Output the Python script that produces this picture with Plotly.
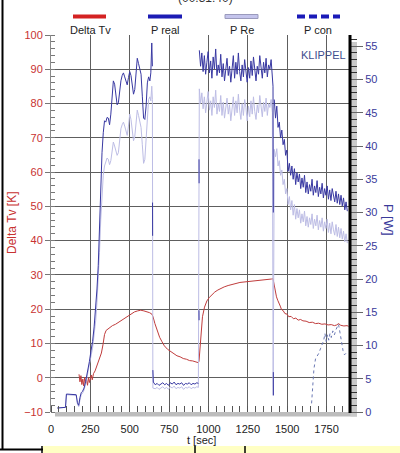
import plotly.graph_objects as go

# ---------------- data ----------------
x_tick_vals = [0, 250, 500, 750, 1000, 1250, 1500, 1750]
x_tick_text = ["0", "250", "500", "750", "1000", "1250", "1500", "1750"]

# Delta Tv [K] (left axis)
t_dtv = [178, 184, 190, 196, 202, 208, 214, 220, 226, 232,
         238, 244, 250, 256, 262, 270, 280, 290, 300, 310,
         320, 330, 340, 350, 360, 375, 390, 410, 430, 450,
         470, 490, 510, 530, 550, 570, 590, 610, 625, 640,
         648, 660, 675, 690, 705, 720, 740, 760, 780, 800,
         820, 840, 860, 880, 900, 920, 935, 940, 945, 950,
         955, 962, 975, 990, 1005, 1020, 1040, 1060, 1080, 1100,
         1125, 1150, 1175, 1200, 1225, 1250, 1275, 1300, 1325, 1350,
         1375, 1400, 1410, 1416, 1424, 1432, 1440, 1448, 1456, 1464,
         1474, 1486, 1498, 1510, 1525, 1540, 1555, 1570, 1585, 1600,
         1620, 1640, 1660, 1680, 1700, 1720, 1740, 1760, 1780, 1800,
         1815, 1826, 1840, 1860, 1880, 1890]
delta_tv = [1.0, -1.2, 0.6, -2.0, -0.4, -2.4, 0.2, -1.6, -0.6, -2.2,
            0.0, -1.4, -0.2, 0.8, -0.6, 1.2, 2.0, 3.4, 4.4, 5.8,
            7.2, 9.6, 12.6, 13.8, 14.2, 14.8, 15.2, 15.6, 16.2, 17.0,
            17.6, 18.2, 18.8, 19.2, 19.5, 19.7, 19.5, 19.3, 19.0, 18.6,
            17.8, 15.8, 13.6, 11.8, 10.5, 9.3, 8.3, 7.6, 7.0, 6.4,
            6.1, 5.6, 5.4, 5.0, 4.9, 4.6, 4.4, 4.8, 7.5, 10.5,
            14.0, 17.8, 20.6, 22.4, 23.4, 24.2, 25.0, 25.6, 26.1, 26.5,
            26.9, 27.3, 27.5, 27.8, 27.9, 28.1, 28.2, 28.3, 28.5, 28.5,
            28.7, 28.8, 28.9, 27.4, 25.2, 23.6, 22.6, 21.4, 20.9, 19.9,
            19.6, 18.7, 18.6, 17.8, 17.9, 17.2, 17.4, 16.8, 17.0, 16.6,
            16.5, 16.1, 16.2, 15.8, 15.9, 15.6, 15.7, 15.4, 15.5, 15.2,
            15.4, 15.8, 15.3, 15.1, 15.2, 15.0]

# Power [W] (right axis) - warm-up segment
t_rise = [40, 70, 92, 98, 130, 160, 168, 176, 184, 192,
          200, 210, 220, 232, 244, 254, 264, 274, 284, 292,
          300, 308, 316, 324, 332, 340, 348, 356, 364, 372,
          380, 388, 396, 404, 412, 420, 428, 436, 444, 452,
          460, 468, 476, 484, 492, 500, 508, 516, 524, 532,
          540, 548, 556, 564, 572, 580, 588, 596, 604, 612,
          620, 628, 634, 640, 644]
p_real_rise = [0.6, 0.6, 0.7, 2.7, 2.7, 2.6, 1.4, 1.0, 2.2, 2.9,
               3.1, 3.6, 4.6, 6.0, 7.6, 9.2, 10.6, 12.8, 15.4, 18.5,
               22.0, 28.0, 34.0, 39.0, 42.0, 43.8, 43.6, 44.3, 44.2, 43.2,
               44.8, 48.0, 49.8, 49.3, 47.2, 46.2, 46.5, 48.4, 49.8, 50.6,
               51.0, 50.4, 49.6, 49.2, 50.3, 51.2, 50.6, 49.0, 47.8, 48.5,
               51.2, 53.2, 52.4, 51.3, 50.8, 47.5, 44.2, 44.0, 46.0, 49.5,
               50.4, 49.8, 51.0, 55.5, 52.0]
p_re_rise = [0.6, 0.6, 0.7, 2.6, 2.6, 2.5, 1.2, 0.8, 1.8, 2.6,
             2.8, 3.3, 4.2, 5.5, 7.0, 8.4, 9.6, 11.5, 13.8, 16.5,
             19.5, 24.0, 29.0, 33.0, 35.6, 37.0, 37.6, 38.2, 38.0, 37.2,
             37.8, 39.6, 40.6, 40.0, 39.0, 38.6, 39.0, 40.8, 42.6, 43.2,
             43.6, 43.0, 42.0, 41.6, 43.0, 44.8, 44.0, 42.0, 40.8, 41.4,
             44.0, 45.4, 44.6, 43.4, 42.8, 40.2, 37.4, 38.0, 41.5, 44.5,
             47.0, 47.4, 46.8, 49.0, 47.0]

# low-power segment
t_low = [647, 650, 662, 674, 686, 698, 710, 722, 734, 746,
         758, 770, 782, 794, 806, 818, 830, 842, 854, 866,
         878, 890, 902, 914, 926, 936]
p_real_low = [6.3, 4.5, 4.1, 4.3, 4.0, 4.2, 4.4, 4.1, 4.3, 4.0,
              4.4, 4.2, 4.5, 4.1, 4.3, 4.2, 4.4, 4.0, 4.3, 4.2,
              4.4, 4.1, 4.3, 4.2, 4.4, 4.3]
p_re_low = [3.6, 3.6, 3.5, 3.7, 3.4, 3.6, 3.8, 3.5, 3.7, 3.4,
            3.8, 3.6, 3.9, 3.5, 3.7, 3.6, 3.8, 3.4, 3.7, 3.6,
            3.8, 3.5, 3.7, 3.6, 3.8, 3.7]

# high-power segment
t_high = [942, 950, 958, 966, 974, 982, 990, 998, 1006, 1014,
          1022, 1030, 1038, 1046, 1054, 1062, 1070, 1078, 1086, 1094,
          1102, 1110, 1118, 1126, 1134, 1142, 1150, 1158, 1166, 1174,
          1182, 1190, 1198, 1206, 1214, 1222, 1230, 1238, 1246, 1254,
          1262, 1270, 1278, 1286, 1294, 1302, 1310, 1318, 1326, 1334,
          1342, 1350, 1358, 1366, 1374, 1382, 1390, 1398, 1406]
p_real_high = [54.4, 52.0, 54.0, 51.2, 53.6, 50.8, 52.6, 54.2, 51.0, 52.8,
               50.2, 53.4, 51.6, 54.6, 50.6, 52.2, 51.0, 53.8, 50.4, 52.4,
               49.8, 51.8, 53.2, 50.6, 52.0, 49.6, 51.4, 53.6, 50.2, 52.6,
               50.8, 54.0, 51.2, 49.8, 52.2, 50.4, 53.0, 51.6, 49.6, 51.8,
               50.2, 52.8, 50.6, 53.4, 51.0, 49.8, 52.0, 50.8, 53.6, 51.4,
               50.2, 52.6, 51.0, 53.2, 50.4, 52.2, 51.6, 53.0, 50.8]
p_re_high = [48.6, 46.4, 48.0, 45.6, 47.4, 45.0, 46.8, 48.2, 45.4, 46.8,
             44.6, 47.4, 45.8, 48.4, 44.8, 46.4, 45.2, 47.6, 44.6, 46.6,
             44.2, 46.0, 47.2, 44.8, 46.2, 43.8, 45.6, 47.4, 44.6, 46.8,
             45.0, 47.8, 45.4, 44.0, 46.4, 44.6, 47.0, 45.8, 43.8, 46.0,
             44.4, 46.8, 44.8, 47.4, 45.2, 44.0, 46.2, 45.0, 47.6, 45.6,
             44.4, 46.6, 45.2, 47.2, 44.6, 46.4, 45.8, 47.0, 45.0]

# cool-down segment
t_cool = [1418, 1426, 1434, 1442, 1450, 1458, 1466, 1474, 1482, 1490,
          1498, 1506, 1514, 1522, 1530, 1538, 1546, 1554, 1562, 1570,
          1578, 1586, 1594, 1602, 1610, 1618, 1626, 1634, 1642, 1650,
          1658, 1666, 1674, 1682, 1690, 1698, 1706, 1714, 1722, 1730,
          1738, 1746, 1754, 1762, 1770, 1778, 1786, 1794, 1802, 1810,
          1818, 1826, 1834, 1842, 1850, 1858, 1866, 1874, 1882]
p_real_cool = [47.0, 44.2, 46.0, 42.8, 43.6, 41.2, 42.4, 40.2, 41.0, 38.6,
               39.4, 36.2, 37.4, 35.6, 37.0, 35.0, 36.6, 34.2, 36.0, 34.6,
               35.8, 33.6, 35.2, 33.8, 35.6, 33.0, 34.6, 32.8, 34.2, 33.2,
               35.0, 32.6, 34.0, 33.0, 34.8, 32.4, 33.8, 32.8, 34.4, 32.2,
               33.6, 32.6, 34.0, 32.0, 33.4, 31.8, 33.6, 32.4, 31.6, 33.2,
               31.4, 32.8, 31.2, 32.6, 31.0, 32.2, 30.4, 31.6, 30.2]
p_re_cool = [39.5, 38.4, 39.6, 37.0, 37.8, 35.6, 36.4, 34.2, 35.0, 32.8,
             33.6, 31.2, 32.4, 30.4, 31.8, 29.6, 31.2, 29.0, 30.6, 29.2,
             30.4, 28.4, 29.8, 28.6, 30.2, 28.0, 29.4, 27.8, 29.2, 28.2,
             29.8, 27.6, 29.0, 28.0, 29.6, 27.4, 28.8, 27.8, 29.2, 27.2,
             28.6, 27.6, 29.0, 27.0, 28.4, 26.8, 28.6, 27.4, 26.6, 28.2,
             26.4, 27.8, 26.2, 27.6, 26.0, 27.2, 25.6, 26.8, 25.4]

# short transients at the power switching moments
t_sw1 = [645, 645.5]
p_sw1 = [31.5, 26.5]
t_sw2a = [940, 940.5]
p_sw2a = [38.0, 34.4]
t_sw2b = [940, 940.5]
p_sw2b = [15.3, 13.8]
t_sw3 = [1410, 1412]
p_sw3 = [49.0, 30.0]
t_sw3b = [1412, 1412.5]
p_sw3b = [6.0, 2.5]
t_re_sw3 = [1411]
p_re_sw3 = [2.5]

# P con
t_pcon = [1655, 1662, 1670, 1680, 1690, 1700, 1713, 1722, 1732, 1740,
          1748, 1756, 1764, 1772, 1780, 1790, 1800, 1810, 1820, 1826,
          1835, 1845, 1855, 1864, 1872, 1880]
p_con = [1.3, 4.0, 6.5, 8.0, 8.4, 8.8, 9.6, 10.2, 10.8, 11.8,
         10.6, 11.6, 10.8, 11.8, 11.2, 12.2, 11.6, 12.4, 12.8, 13.2,
         12.0, 10.4, 9.2, 8.6, 8.8, 9.0]

# ---------------- assemble ----------------
GAP = [None]
t_real = (t_rise + GAP + t_sw1 + GAP + t_low + GAP + t_sw2a + GAP + t_sw2b + GAP
          + t_high + t_sw3 + GAP + t_sw3b + GAP + t_cool)
p_real = (p_real_rise + GAP + p_sw1 + GAP + p_real_low + GAP + p_sw2a + GAP + p_sw2b + GAP
          + p_real_high + p_sw3 + GAP + p_sw3b + GAP + p_real_cool)
t_re = t_rise + t_low + t_high + t_re_sw3 + t_cool
p_re = p_re_rise + p_re_low + p_re_high + p_re_sw3 + p_re_cool

W, H = 400, 453
L, R, T, B = 51, 50, 35, 41
PW = W - L - R
PH = H - T - B


def px(x):
    return (x - L) / PW


def py(y):
    return (H - B - y) / PH


RED = "#c83232"
BLUE = "#3a3a9a"
FONT = "Liberation Sans, Arial, sans-serif"

fig = go.Figure()
fig.add_trace(go.Scatter(x=t_re, y=p_re, yaxis="y2", mode="lines", name="P Re",
                         line=dict(color="#bdbde5", width=1), hoverinfo="skip"))
fig.add_trace(go.Scatter(x=t_real, y=p_real, yaxis="y2", mode="lines", name="P real",
                         line=dict(color="#3838a2", width=1), connectgaps=False, hoverinfo="skip"))
fig.add_trace(go.Scatter(x=t_pcon, y=p_con, yaxis="y2", mode="lines", name="P con",
                         line=dict(color="#6a78b4", width=1, dash="dot"), hoverinfo="skip"))
fig.add_trace(go.Scatter(x=t_dtv, y=delta_tv, mode="lines", name="Delta Tv",
                         line=dict(color="#c03c3c", width=1), hoverinfo="skip"))

shapes = []
# hide the top gridline
shapes.append(dict(type="line", xref="paper", yref="paper", x0=0.004, x1=0.996, y0=1, y1=1,
                   line=dict(color="white", width=2), layer="between"))
# bottom gray axis band
shapes.append(dict(type="rect", xref="paper", yref="paper", x0=px(55), x1=px(357), y0=py(416.5), y1=py(412),
                   fillcolor="#bdbdbd", line=dict(width=0), layer="below"))
# right gray axis band
shapes.append(dict(type="rect", xref="paper", yref="paper", x0=px(350.5), x1=px(357), y0=py(416.5), y1=py(42),
                   fillcolor="#c9c9c9", line=dict(width=0), layer="below"))
# thick black line at right edge
shapes.append(dict(type="line", xref="paper", yref="paper", x0=px(350), x1=px(350), y0=py(413), y1=py(35),
                   line=dict(color="black", width=3), layer="above"))
# legend samples
shapes.append(dict(type="line", xref="paper", yref="paper", x0=px(73), x1=px(106), y0=py(16.5), y1=py(16.5),
                   line=dict(color="#d42222", width=4)))
shapes.append(dict(type="line", xref="paper", yref="paper", x0=px(148), x1=px(182), y0=py(16.5), y1=py(16.5),
                   line=dict(color="#1c1cb4", width=4)))
shapes.append(dict(type="rect", xref="paper", yref="paper", x0=px(225), x1=px(258), y0=py(18.5), y1=py(14.5),
                   fillcolor="#c4c4ec", line=dict(color="#9a9abc", width=1)))
shapes.append(dict(type="line", xref="paper", yref="paper", x0=px(297), x1=px(340), y0=py(16.5), y1=py(16.5),
                   line=dict(color="#1a1ab8", width=4, dash="8px,4px")))
# frame pieces at bottom / left
shapes.append(dict(type="rect", xref="paper", yref="paper", x0=px(43), x1=px(400), y0=py(453), y1=py(446),
                   fillcolor="#ffffc4", line=dict(width=0)))
shapes.append(dict(type="line", xref="paper", yref="paper", x0=px(0), x1=px(43), y0=py(449.5), y1=py(449.5),
                   line=dict(color="black", width=2)))
shapes.append(dict(type="line", xref="paper", yref="paper", x0=px(2.5), x1=px(2.5), y0=py(0), y1=py(450),
                   line=dict(color="black", width=2)))
for mx in (42, 195, 245):
    shapes.append(dict(type="line", xref="paper", yref="paper", x0=px(mx), x1=px(mx), y0=py(446), y1=py(453),
                       line=dict(color="black", width=1.5)))

annotations = []


def ann(text, x, y, size=11, color="#222", angle=0, xanchor="center"):
    annotations.append(dict(text=text, x=px(x), y=py(y), xref="paper", yref="paper", showarrow=False,
                            xanchor=xanchor, yanchor="middle", textangle=angle,
                            font=dict(family=FONT, size=size, color=color)))


ann("(00:31:40)", 205, -2, size=12, color="#333")
ann("Delta Tv", 90, 29.5)
ann("P real", 165, 29.5)
ann("P Re", 242, 29.5)
ann("P con", 318, 29.5)
ann("KLIPPEL", 348, 55, size=11, color="#3f4d8f", xanchor="right")
ann("Delta Tv [K]", 12, 223, size=12, color=RED, angle=-90)
ann("P [W]", 389, 220, size=13, color=BLUE, angle=90)
ann("t [sec]", 201, 440, size=11, color="#222")

fig.update_layout(
    width=W, height=H,
    margin=dict(l=L, r=R, t=T, b=B, pad=0, autoexpand=False),
    paper_bgcolor="white", plot_bgcolor="white",
    showlegend=False,
    font=dict(family=FONT, size=11, color="#222"),
    xaxis=dict(range=[0, 1899], tickmode="array", tickvals=x_tick_vals, ticktext=x_tick_text,
               automargin=False,
               showgrid=True, gridcolor="#5e5e5e", gridwidth=1, zeroline=False, showline=False,
               ticks="outside", ticklen=7, tickcolor="rgba(0,0,0,0)",
               tickfont=dict(size=11, color="#222"),
               minor=dict(tickmode="linear", tick0=0, dtick=50, ticks="inside", ticklen=6,
                          tickcolor="#555", showgrid=False)),
    yaxis=dict(range=[-10, 100], dtick=10, tick0=0, automargin=False,
               showgrid=True, gridcolor="#5e5e5e", gridwidth=1,
               zeroline=False, showline=True, linecolor="#8a8a8a", linewidth=1,
               ticks="outside", ticklen=5, tickcolor="#777",
               tickfont=dict(size=11, color=RED),
               minor=dict(dtick=2, ticks="inside", ticklen=4, tickcolor="#777", showgrid=False)),
    yaxis2=dict(range=[0, 56.7], dtick=5, tick0=0, overlaying="y", side="right", automargin=False,
                showgrid=False, zeroline=False, showline=False,
                ticks="outside", ticklen=12, tickcolor="#666",
                tickfont=dict(size=11, color=BLUE),
                minor=dict(dtick=1, ticks="outside", ticklen=6, tickcolor="#333", showgrid=False)),
    shapes=shapes,
    annotations=annotations,
)

fig.write_html("out.html",
               config={"displayModeBar": False, "staticPlot": True},
               post_script="document.body.style.margin='0';document.body.style.padding='0';")
